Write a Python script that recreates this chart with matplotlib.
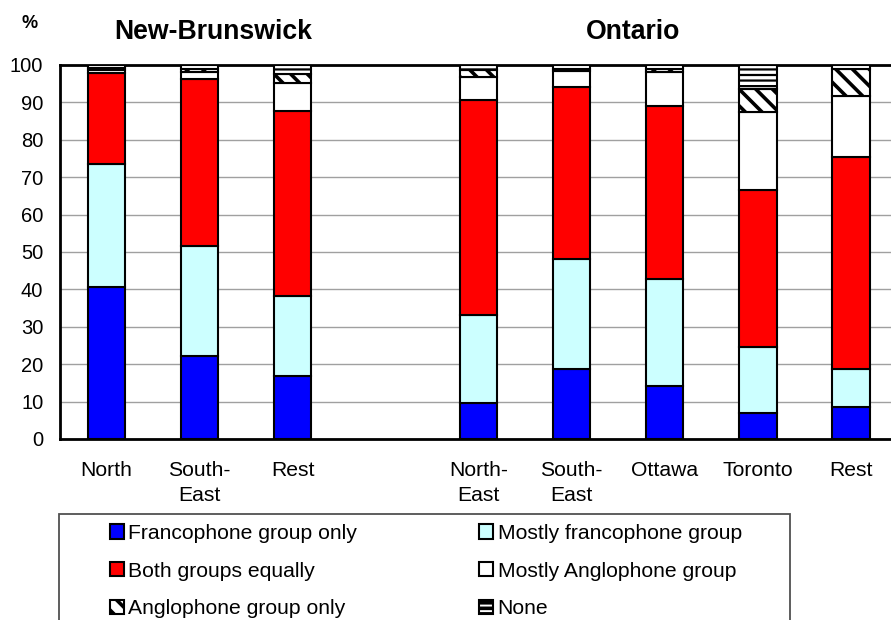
import numpy as np
import matplotlib
matplotlib.use("Agg")
import matplotlib.pyplot as plt
from matplotlib.patches import Patch, Rectangle

plt.rcParams['font.family'] = ['Liberation Sans', 'DejaVu Sans']
plt.rcParams['hatch.linewidth'] = 2.6

# categories (slot 3 left empty between the two provinces)
regions = ["North", "South-\nEast", "Rest", "North-\nEast", "South-\nEast", "Ottawa", "Toronto", "Rest"]
slots = [0, 1, 2, 4, 5, 6, 7, 8]

# shares in %, one list per answer
franco_only = [40.6, 22.2, 16.9, 9.7, 18.6, 14.3, 7.0, 8.5]
mostly_franco = [32.9, 29.5, 21.3, 23.4, 29.4, 28.4, 17.5, 10.1]
both_equal = [24.3, 44.6, 49.5, 57.5, 46.0, 46.4, 42.1, 56.9]
mostly_anglo = [0.8, 1.7, 7.6, 6.3, 4.5, 8.9, 20.8, 16.3]
anglo_only = [0.6, 0.8, 2.2, 1.8, 0.5, 0.8, 6.1, 7.1]
no_group = [0.8, 1.2, 2.5, 1.3, 1.0, 1.2, 6.5, 1.1]

series = [
    ("Francophone group only", franco_only, "#0000FF", None),
    ("Mostly francophone group", mostly_franco, "#CCFFFF", None),
    ("Both groups equally", both_equal, "#FF0000", None),
    ("Mostly Anglophone group", mostly_anglo, "#FFFFFF", None),
    ("Anglophone group only", anglo_only, "#FFFFFF", "\\\\"),
    ("None", no_group, "#FFFFFF", "---"),
]

fig = plt.figure(figsize=(8.91, 6.2), dpi=100)
W, H = 891, 620
ax = fig.add_axes([60 / W, (H - 439) / H, (897.5 - 60) / W, (439 - 65) / H])

x = np.array(slots, dtype=float)
bottom = np.zeros(len(x))
handles = []
for label, vals, color, hatch in series:
    vals = np.array(vals)
    bars = ax.bar(x, vals, 0.4, bottom=bottom, color=color, edgecolor="black",
                  linewidth=1.5, hatch=hatch, zorder=3)
    if hatch == "---":
        for b in bars:
            if hasattr(b, "set_hatch_linewidth"):
                b.set_hatch_linewidth(1.6)
    bottom += vals
    handles.append(Patch(facecolor=color, edgecolor="black", linewidth=1.5,
                         hatch=hatch, label=label))

ax.set_xlim(-0.5, 8.5)
ax.set_ylim(0, 100)
ax.set_yticks(np.arange(0, 101, 10))
ax.set_xticks(x)
ax.set_xticklabels(regions, fontsize=15.2, linespacing=1.4)
ax.tick_params(axis="y", labelsize=14.5, length=0, pad=12)
ax.tick_params(axis="x", length=0, pad=16)
ax.grid(axis="y", color="#A0A0A0", linewidth=1.0, zorder=0)
ax.set_axisbelow(True)
for side in ["left", "bottom", "top"]:
    ax.spines[side].set_linewidth(2.0)
    ax.spines[side].set_color("black")
ax.spines["right"].set_visible(False)

fig.text(30 / W, 1 - 23 / H, "%", fontsize=13, fontweight="bold", ha="center", va="center")
fig.text(213 / W, 1 - 32 / H, "New-Brunswick", fontsize=19.2, fontweight="bold", ha="center", va="center")
fig.text(633 / W, 1 - 32 / H, "Ontario", fontsize=19.2, fontweight="bold", ha="center", va="center")

# legend box (cut off at the bottom of the picture)
fig.add_artist(Rectangle((59 / W, -10 / H), (790 - 59) / W, (H - 514 + 10) / H,
                         transform=fig.transFigure, facecolor="none",
                         edgecolor="#505050", linewidth=1.3))

# row-wise order for a 2-column legend
order = [0, 2, 4, 1, 3, 5]
leg = fig.legend([handles[i] for i in order], [handles[i].get_label() for i in order],
                 ncol=2, loc="upper left", bbox_to_anchor=(110 / W, 1 - 524 / H),
                 fontsize=15.2, frameon=False, handlelength=0.66, handleheight=0.66,
                 handletextpad=0.2, labelspacing=0.88, columnspacing=5.8,
                 borderpad=0, borderaxespad=0)

fig.savefig("out.png", dpi=100)
